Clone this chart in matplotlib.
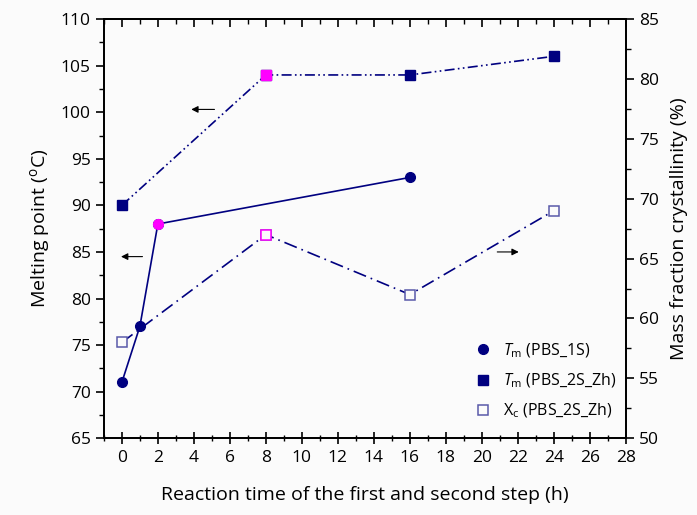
import matplotlib.pyplot as plt
from matplotlib.ticker import MultipleLocator

plt.rcParams['font.family'] = ['Open Sans', 'DejaVu Sans']
plt.rcParams['mathtext.fontset'] = 'custom'
plt.rcParams['mathtext.it'] = 'Open Sans:italic'
plt.rcParams['mathtext.rm'] = 'Open Sans'

navy = '#000080'
light = '#5a5aaa'
pink = '#ff00ff'

t_1s = [0, 1, 2, 16]
tm_1s = [71, 77, 88, 93]
t_2s = [0, 8, 16, 24]
tm_2s = [90, 104, 104, 106]
xc_2s = [58, 67, 62, 69]

fig = plt.figure(figsize=(6.97, 5.15), dpi=100, facecolor='#fbfbfb')
ax = fig.add_axes([0.149, 0.149, 0.749, 0.814])
ax.set_facecolor('#fbfbfb')
ax2 = ax.twinx()

# Tm of PBS_1S
ax.plot(t_1s, tm_1s, '-', color=navy, lw=1.2, zorder=2)
ax.plot(t_1s, tm_1s, 'o', color=navy, ms=7, zorder=3, label=r'$T_\mathrm{m}$ (PBS_1S)')
ax.plot(t_1s[2], tm_1s[2], 'o', color=pink, ms=7, zorder=4)

# Tm of PBS_2S_Zh
ax.plot(t_2s, tm_2s, color=navy, lw=1.2, ls=(0, (6, 2, 1, 2, 1, 2)), zorder=2)
ax.plot(t_2s, tm_2s, 's', color=navy, ms=6.5, zorder=3, label=r'$T_\mathrm{m}$ (PBS_2S_Zh)')
ax.plot(t_2s[1], tm_2s[1], 's', color=pink, ms=6.5, zorder=4)

# Xc of PBS_2S_Zh
ax2.plot(t_2s, xc_2s, color=navy, lw=1.2, ls=(0, (8, 3, 1, 3)), zorder=2)
ax2.plot(t_2s, xc_2s, 's', mfc='#fbfbfb', mec=light, mew=1.1, ms=7, zorder=3)
ax2.plot(t_2s[1], xc_2s[1], 's', mfc='#fbfbfb', mec=pink, mew=1.1, ms=7, zorder=4)
ax.plot([], [], 's', mfc='none', mec=light, mew=1.1, ms=7, label=r'X$_\mathrm{c}$ (PBS_2S_Zh)')

# arrows pointing to the axes
arr = dict(arrowstyle='-|>', color='black', lw=0.8, mutation_scale=10)
ax.annotate('', xy=(3.7, 100.3), xytext=(5.3, 100.3), arrowprops=arr)
ax.annotate('', xy=(-0.2, 84.5), xytext=(1.3, 84.5), arrowprops=arr)
ax.annotate('', xy=(22.2, 85.0), xytext=(20.7, 85.0), arrowprops=arr)

ax.set_xlim(-1, 28)
ax.set_ylim(65, 110)
ax2.set_ylim(50, 85)
ax.xaxis.set_major_locator(MultipleLocator(2))
ax.xaxis.set_minor_locator(MultipleLocator(1))
ax.yaxis.set_major_locator(MultipleLocator(5))
ax.yaxis.set_minor_locator(MultipleLocator(2.5))
ax2.yaxis.set_major_locator(MultipleLocator(5))
ax2.yaxis.set_minor_locator(MultipleLocator(2.5))

# top axis ticks only pointing inward
top = ax.secondary_xaxis('top')
top.xaxis.set_major_locator(MultipleLocator(2))
top.xaxis.set_minor_locator(MultipleLocator(1))
top.tick_params(which='both', direction='in', labeltop=False)
top.tick_params(which='major', length=6, width=1.2)
top.tick_params(which='minor', length=3.5, width=1)
top.spines['top'].set_linewidth(1.3)

ax.tick_params(axis='x', which='both', direction='inout')
ax.tick_params(axis='x', which='major', length=9, width=1.2, labelsize=12.5, pad=4)
ax.tick_params(axis='x', which='minor', length=5, width=1)
ax.tick_params(axis='y', which='major', direction='out', length=6, width=1.2, labelsize=12.5)
ax.tick_params(axis='y', which='minor', direction='out', length=3.5, width=1)
ax2.tick_params(axis='y', which='major', direction='out', length=6, width=1.2, labelsize=12.5)
ax2.tick_params(axis='y', which='minor', direction='out', length=3.5, width=1)
for a in (ax, ax2):
    for s in a.spines.values():
        s.set_linewidth(1.3)

ax.set_xlabel('Reaction time of the first and second step (h)', fontsize=14, labelpad=14)
ax.set_ylabel(r'Melting point ($^\mathrm{o}$C)', fontsize=14, labelpad=6)
ax2.set_ylabel('Mass fraction crystallinity (%)', fontsize=14, labelpad=8)

ax.legend(loc='lower right', bbox_to_anchor=(1.0, 0.02), frameon=False, fontsize=11.5,
          handletextpad=0.5, borderaxespad=0.2, labelspacing=0.75, handlelength=1.5)

fig.savefig('out.png', dpi=100, facecolor=fig.get_facecolor())
